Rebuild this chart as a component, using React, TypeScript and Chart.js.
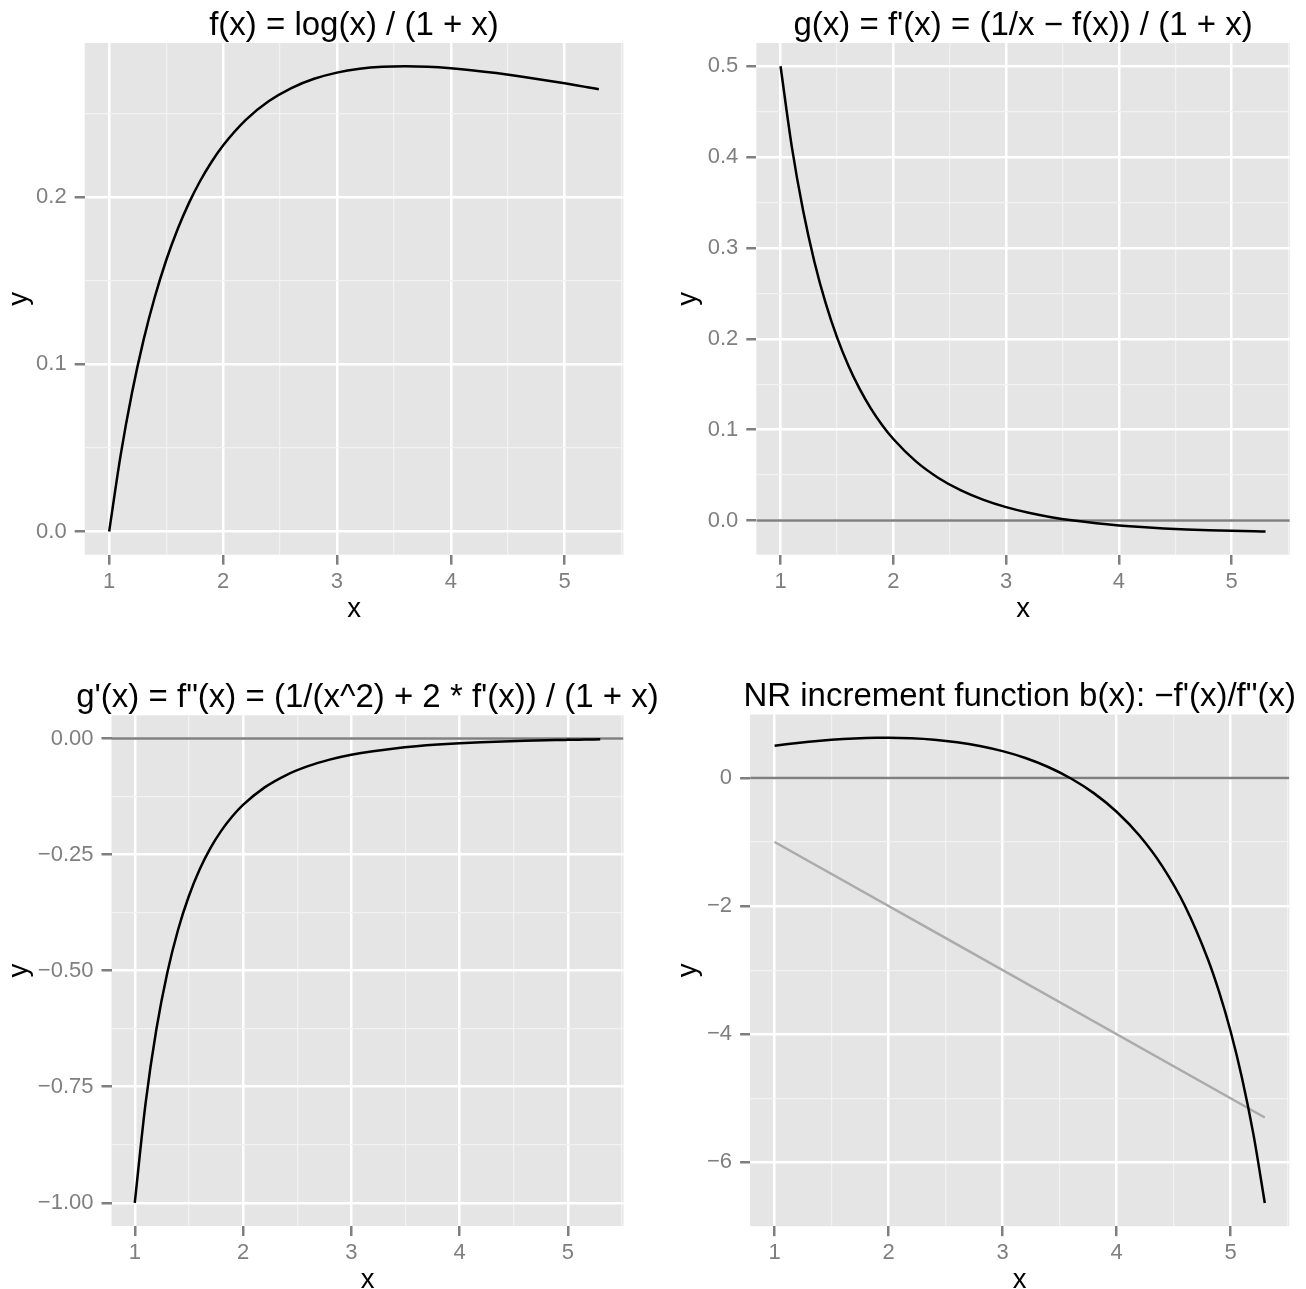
import React, { useEffect, useRef } from "react";
import { Chart, registerables } from "chart.js";
Chart.register(...registerables);

// ---- data ----
const xs = [1.0, 1.1, 1.2, 1.3, 1.4, 1.5, 1.6, 1.7, 1.8, 1.9, 2.0, 2.2, 2.4, 2.6, 2.8, 3.0, 3.2, 3.4, 3.6, 3.8, 4.0, 4.2, 4.4, 4.6, 4.8, 4.9, 5.0, 5.1, 5.2, 5.3];
const fVals = [0, 0.04539, 0.08287, 0.11407, 0.1402, 0.16219, 0.18077, 0.19653, 0.20992, 0.22133, 0.23105, 0.24639, 0.25749, 0.26542, 0.27095, 0.27465, 0.27694, 0.27813, 0.27846, 0.27813, 0.27726, 0.27598, 0.27437, 0.27251, 0.27045, 0.26936, 0.26824, 0.26709, 0.26591, 0.26472];
const gVals = [0.5, 0.41129, 0.34112, 0.28485, 0.2392, 0.20179, 0.17086, 0.14508, 0.12344, 0.10517, 0.08965, 0.06505, 0.04682, 0.03311, 0.02268, 0.01467, 0.00847, 0.00363, -0.00015, -0.00312, -0.00545, -0.00729, -0.00872, -0.00984, -0.01071, -0.01106, -0.01137, -0.01164, -0.01187, -0.01207];
const gpVals = [-1, -0.78525, -0.62577, -0.50497, -0.41192, -0.33921, -0.28167, -0.23562, -0.1984, -0.16805, -0.1431, -0.10522, -0.0786, -0.05949, -0.0455, -0.03511, -0.02729, -0.02131, -0.01671, -0.01313, -0.01032, -0.0081, -0.00634, -0.00492, -0.00379, -0.00331, -0.00288, -0.00249, -0.00214, -0.00182];
const bVals = [0.5, 0.52377, 0.54512, 0.56409, 0.58069, 0.59488, 0.6066, 0.61574, 0.62218, 0.62583, 0.62649, 0.61823, 0.59567, 0.55656, 0.49846, 0.41783, 0.31037, 0.17034, -0.00898, -0.23762, -0.5281, -0.8994, -1.3768, -1.999, -2.826, -3.344, -3.955, -4.683, -5.56, -6.634];
const diagX = [1, 5.3];
const diagY = [-1, -5.3];
const zeroLine = [0];

const xMajor = [1, 2, 3, 4, 5];
const xMinor = [1.5, 2.5, 3.5, 4.5, 5.5];
const p1YMajor = [0, 0.1, 0.2];
const p1YMinor = [0.05, 0.15, 0.25];
const p2YMajor = [0, 0.1, 0.2, 0.3, 0.4, 0.5];
const p2YMinor = [0.05, 0.15, 0.25, 0.35, 0.45];
const p3YMajor = [-1, -0.75, -0.5, -0.25, 0];
const p3YMinor = [-0.875, -0.625, -0.375, -0.125];
const p4YMajor = [-6, -4, -2, 0];
const p4YMinor = [-5, -3, -1];

const titles = [
  "f(x) = log(x) / (1 + x)",
  "g(x) = f'(x) = (1/x \u2212 f(x)) / (1 + x)",
  "g'(x) = f\"(x) = (1/(x^2) + 2 * f'(x)) / (1 + x)",
  "NR increment function b(x): \u2212f'(x)/f\"(x)",
];

// ---- styling / layout ----
const FONT = '"Liberation Sans", Arial, Helvetica, sans-serif';
const BLACK = "#000000";
const ZERO_COL = "#7f7f7f";
const DIAG_COL = "#ababab";

type Series = { x: number[]; y: number[]; color: string; width: number };
type Panel = {
  left: number; top: number; w: number; h: number;
  gl: number; gt: number; gr: number; gb: number; // gray panel in page coords
  title: string;
  series: Series[];
  hline: number[];
  yMajor: number[]; yMinor: number[]; yDigits: number;
  yTitleX: number; // page x of y-title baseline
};

const panels: Panel[] = [
  { left: 0, top: 0, w: 690, h: 645, gl: 84.7, gt: 43, gr: 623.3, gb: 554.7, title: titles[0],
    series: [{ x: xs, y: fVals, color: BLACK, width: 2.5 }], hline: [],
    yMajor: p1YMajor, yMinor: p1YMinor, yDigits: 1, yTitleX: 27 },
  { left: 653, top: 0, w: 653, h: 645, gl: 756.3, gt: 43, gr: 1289.8, gb: 554.7, title: titles[1],
    series: [{ x: xs, y: gVals, color: BLACK, width: 2.5 }], hline: zeroLine,
    yMajor: p2YMajor, yMinor: p2YMinor, yDigits: 1, yTitleX: 696 },
  { left: 0, top: 645, w: 690, h: 644, gl: 111.5, gt: 715.3, gr: 623.5, gb: 1226, title: titles[2],
    series: [{ x: xs, y: gpVals, color: BLACK, width: 2.5 }], hline: zeroLine,
    yMajor: p3YMajor, yMinor: p3YMinor, yDigits: 2, yTitleX: 27 },
  { left: 653, top: 645, w: 653, h: 644, gl: 750.1, gt: 714.5, gr: 1289.3, gb: 1226.2, title: titles[3],
    series: [{ x: xs, y: bVals, color: BLACK, width: 2.5 }, { x: diagX, y: diagY, color: DIAG_COL, width: 2.5 }], hline: zeroLine,
    yMajor: p4YMajor, yMinor: p4YMinor, yDigits: 0, yTitleX: 696 },
];

const isIn = (arr: number[], v: number) => arr.some((m) => Math.abs(m - v) < 1e-9);
const fmt = (v: number, d: number) => {
  const s = Math.abs(v) < 1e-12 ? (0).toFixed(d) : v.toFixed(d);
  return s.replace("-", "\u2212");
};

function buildConfig(p: Panel): any {
  const allX = p.series.flatMap((s) => s.x);
  const allY = p.series.flatMap((s) => s.y).concat(p.hline);
  const xLo0 = Math.min(...allX), xHi0 = Math.max(...allX);
  const yLo0 = Math.min(...allY), yHi0 = Math.max(...allY);
  const xPad = (xHi0 - xLo0) * 0.05, yPad = (yHi0 - yLo0) * 0.05;
  const xMin = xLo0 - xPad, xMax = xHi0 + xPad;
  const yMin = yLo0 - yPad, yMax = yHi0 + yPad;

  const datasets: any[] = p.series.map((s) => ({
    data: s.x.map((x, i) => ({ x, y: s.y[i] })),
    borderColor: s.color,
    borderWidth: s.width,
    pointRadius: 0,
    fill: false,
    cubicInterpolationMode: "monotone",
    borderCapStyle: "butt",
  }));
  p.hline.forEach((h) => {
    datasets.push({
      data: [{ x: xMin, y: h }, { x: xMax, y: h }],
      borderColor: ZERO_COL,
      borderWidth: 2.5,
      pointRadius: 0,
      fill: false,
    });
  });

  const yWidth = p.gl - p.left;
  const xHeight = p.top + p.h - p.gb;
  const padTop = p.gt - p.top;
  const padRight = p.left + p.w - p.gr;

  const gridOpts = (major: number[]) => ({
    display: true,
    drawOnChartArea: true,
    drawTicks: true,
    tickLength: 10,
    color: (ctx: any) => (isIn(major, ctx.tick?.value) ? "#ffffff" : "#f2f2f2"),
    lineWidth: (ctx: any) => (isIn(major, ctx.tick?.value) ? 2.5 : 1.2),
    tickColor: (ctx: any) => (isIn(major, ctx.tick?.value) ? "#7f7f7f" : "rgba(0,0,0,0)"),
    tickWidth: 2.5,
  });

  const bgPlugin = {
    id: "ggBg" + p.left + "_" + p.top,
    beforeDraw(chart: any) {
      const { ctx, chartArea } = chart;
      ctx.save();
      ctx.fillStyle = "#e5e5e5";
      ctx.fillRect(chartArea.left, chartArea.top, chartArea.right - chartArea.left, chartArea.bottom - chartArea.top);
      ctx.restore();
    },
    afterDraw(chart: any) {
      const { ctx, chartArea } = chart;
      const cx = (chartArea.left + chartArea.right) / 2;
      const cy = (chartArea.top + chartArea.bottom) / 2;
      ctx.save();
      ctx.fillStyle = "#000000";
      ctx.textAlign = "center";
      ctx.textBaseline = "alphabetic";
      ctx.font = `33px ${FONT}`;
      ctx.fillText(p.title, cx, chartArea.top - 8.5);
      ctx.font = `27.5px ${FONT}`;
      ctx.fillText("x", cx, chartArea.bottom + 62);
      ctx.translate(p.yTitleX - p.left, cy);
      ctx.rotate(-Math.PI / 2);
      ctx.fillText("y", 0, 0);
      ctx.restore();
    },
  };

  return {
    type: "line",
    data: { datasets },
    options: {
      animation: false,
      responsive: false,
      maintainAspectRatio: false,
      devicePixelRatio: 1,
      parsing: true,
      layout: { padding: { top: padTop, right: padRight, left: 0, bottom: 0 } },
      plugins: { legend: { display: false }, tooltip: { enabled: false }, title: { display: false } },
      scales: {
        x: {
          type: "linear",
          min: xMin,
          max: xMax,
          border: { display: false },
          grid: gridOpts(xMajor),
          afterBuildTicks: (s: any) => {
            s.ticks = [...xMajor, ...xMinor].filter((v) => v >= xMin && v <= xMax).sort((a, b) => a - b).map((v) => ({ value: v }));
          },
          afterFit: (s: any) => { s.height = xHeight; },
          ticks: {
            autoSkip: false,
            maxRotation: 0,
            minRotation: 0,
            padding: 4,
            color: "#7f7f7f",
            font: { family: FONT, size: 22 },
            callback: (v: any) => (isIn(xMajor, Number(v)) ? String(Number(v)) : ""),
          },
        },
        y: {
          type: "linear",
          min: yMin,
          max: yMax,
          border: { display: false },
          grid: gridOpts(p.yMajor),
          afterBuildTicks: (s: any) => {
            s.ticks = [...p.yMajor, ...p.yMinor].filter((v) => v >= yMin && v <= yMax).sort((a, b) => a - b).map((v) => ({ value: v }));
          },
          afterFit: (s: any) => { s.width = yWidth; },
          ticks: {
            autoSkip: false,
            padding: 8,
            color: "#7f7f7f",
            font: { family: FONT, size: 22 },
            callback: (v: any) => (isIn(p.yMajor, Number(v)) ? fmt(Number(v), p.yDigits) : ""),
          },
        },
      },
    },
    plugins: [bgPlugin],
  };
}

function PanelChart({ p }: { p: Panel }) {
  const ref = useRef<HTMLCanvasElement>(null);
  useEffect(() => {
    if (!ref.current) return;
    const chart = new Chart(ref.current, buildConfig(p));
    return () => chart.destroy();
  }, []);
  return (
    <canvas
      ref={ref}
      width={p.w}
      height={p.h}
      style={{ position: "absolute", left: p.left, top: p.top, width: p.w, height: p.h }}
    />
  );
}

export default function App() {
  return (
    <div style={{ position: "absolute", left: 0, top: 0, width: 1306, height: 1289, background: "#ffffff", overflow: "hidden" }}>
      {panels.map((p, i) => (
        <PanelChart key={i} p={p} />
      ))}
    </div>
  );
}
